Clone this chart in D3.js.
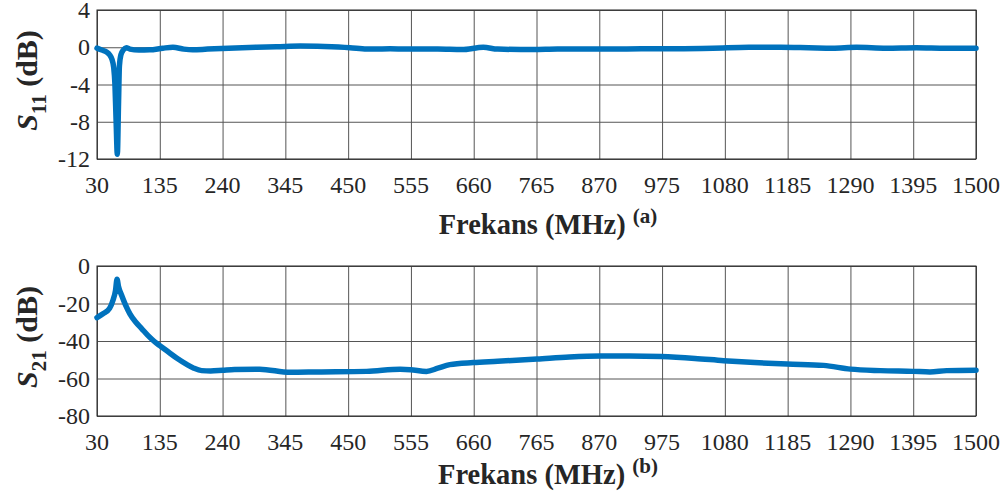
<!DOCTYPE html>
<html>
<head>
<meta charset="utf-8">
<script src="https://cdn.jsdelivr.net/npm/d3@7"></script>
<style>
  body { margin: 0; background: #fff; }
  text { font-family: "Liberation Serif", Tinos, "Times New Roman", Times, serif; fill: #262626; }
</style>
</head>
<body>
<div id="chart"></div>
<script>
// tick labels
var xTicks = [30, 135, 240, 345, 450, 555, 660, 765, 870, 975, 1080, 1185, 1290, 1395, 1500];
var s11Ticks = [4, 0, -4, -8, -12];
var s21Ticks = [0, -20, -40, -60, -80];

// S11 readings (MHz, dB)
var s11Freq = [30, 38, 46, 51, 55, 58, 60, 62, 64, 66, 67.5, 70, 74, 79, 85, 100, 118, 140, 157, 175, 190, 215, 250, 297, 330, 370, 410, 453, 481, 520, 560, 600, 640, 676, 700, 760, 800, 870, 940, 1000, 1060, 1120, 1173, 1220, 1260, 1300, 1350, 1400, 1450, 1500];
var s11Vals = [-0.1, -0.3, -0.5, -0.8, -1.3, -2.2, -4, -8, -11.5, -6, -2, -0.8, -0.3, -0.05, -0.2, -0.3, -0.28, -0.1, 0.0, -0.2, -0.28, -0.2, -0.1, 0.0, 0.05, 0.13, 0.08, -0.05, -0.2, -0.15, -0.2, -0.2, -0.25, 0.0, -0.2, -0.25, -0.2, -0.2, -0.15, -0.15, -0.1, 0.0, 0.0, -0.05, -0.1, 0.0, -0.1, -0.05, -0.1, -0.1];

// S21 readings (MHz, dB)
var s21Freq = [30, 40, 51, 57, 61, 63.5, 66, 71, 78, 85, 95, 105, 115, 125, 135, 150, 165, 180, 192, 205, 220, 240, 260, 302, 353, 400, 481, 537, 554, 581, 600, 620, 659, 700, 766, 820, 872, 920, 973, 1030, 1078, 1130, 1184, 1245, 1290, 1340, 1395, 1423, 1451, 1500];
var s21Vals = [-27.5, -25.5, -22.6, -18, -13, -7, -11, -15.5, -21, -25.5, -30, -33.5, -37, -40, -42.5, -46, -49.5, -52.5, -54.5, -55.8, -56, -55.6, -55.2, -55, -56.7, -56.5, -56.2, -55.1, -55.3, -56.2, -54.5, -52.6, -51.5, -50.8, -49.6, -48.5, -48, -48, -48.3, -49.3, -50.5, -51.5, -52.3, -53, -55, -55.8, -56.2, -56.5, -55.8, -55.6];

var svgWidth = 1008;
var svgHeight = 502;
var left = 97;
var right = 976;
var lineColor = "#0072BD";

var svg = d3.select("#chart")
    .append("svg")
    .attr("width", svgWidth)
    .attr("height", svgHeight);

var xScale = d3.scaleLinear()
    .domain([30, 1500])
    .range([left, right]);

function drawPanel(top, bottom, yDomain, yTicks, freq, vals, sub, letter, titleY) {
    var yScale = d3.scaleLinear()
        .domain(yDomain)
        .range([bottom, top]);

    var g = svg.append("g");

    // vertical grid
    g.append("g")
        .attr("transform", `translate(0, ${bottom})`)
        .call(d3.axisBottom(xScale).tickValues(xTicks).tickSize(-(bottom - top)).tickFormat(""))
        .call(a => a.select(".domain").remove())
        .selectAll("line")
        .attr("stroke", "#555")
        .attr("stroke-width", 1);

    // horizontal grid
    g.append("g")
        .attr("transform", `translate(${left}, 0)`)
        .call(d3.axisLeft(yScale).tickValues(yTicks).tickSize(-(right - left)).tickFormat(""))
        .call(a => a.select(".domain").remove())
        .selectAll("line")
        .attr("stroke", "#555")
        .attr("stroke-width", 1);

    // box
    g.append("rect")
        .attr("x", left)
        .attr("y", top)
        .attr("width", right - left)
        .attr("height", bottom - top)
        .attr("fill", "none")
        .attr("stroke", "#262626")
        .attr("stroke-width", 1);

    // tick labels
    g.selectAll(".xlab")
        .data(xTicks)
        .enter()
        .append("text")
        .attr("x", d => xScale(d))
        .attr("y", bottom + 34)
        .attr("text-anchor", "middle")
        .style("font-size", "24px")
        .text(d => d);

    g.selectAll(".ylab")
        .data(yTicks)
        .enter()
        .append("text")
        .attr("x", 90)
        .attr("y", d => yScale(d) + 8)
        .attr("text-anchor", "end")
        .style("font-size", "24px")
        .text(d => d);

    // data line
    var pts = freq.map((f, i) => [f, vals[i]]);
    var line = d3.line()
        .x(d => xScale(d[0]))
        .y(d => yScale(d[1]))
        .curve(d3.curveMonotoneX);

    g.append("path")
        .datum(pts)
        .attr("d", line)
        .attr("fill", "none")
        .attr("stroke", lineColor)
        .attr("stroke-width", 5.5)
        .attr("stroke-linejoin", "round")
        .attr("stroke-linecap", "round");

    // x axis title
    var xt = g.append("text")
        .attr("x", 548)
        .attr("y", titleY)
        .attr("text-anchor", "middle")
        .style("font-size", "28.5px")
        .style("font-weight", "bold");
    xt.append("tspan").text("Frekans (MHz) ");
    xt.append("tspan")
        .attr("dy", -11)
        .style("font-size", "21px")
        .text(letter);

    // y axis title
    var yt = g.append("text")
        .attr("transform", `translate(37, ${(top + bottom) / 2 - 4}) rotate(-90)`)
        .attr("text-anchor", "middle")
        .style("font-size", "30px")
        .style("font-weight", "bold");
    yt.append("tspan").style("font-style", "italic").text("S");
    yt.append("tspan").attr("dy", 9).style("font-size", "21px").text(sub);
    yt.append("tspan").attr("dy", -9).text(" (dB)");
}

drawPanel(10, 159, [-12, 4], s11Ticks, s11Freq, s11Vals, "11", "(a)", 234);
drawPanel(266, 416, [-80, 0], s21Ticks, s21Freq, s21Vals, "21", "(b)", 484);
</script>
</body>
</html>
